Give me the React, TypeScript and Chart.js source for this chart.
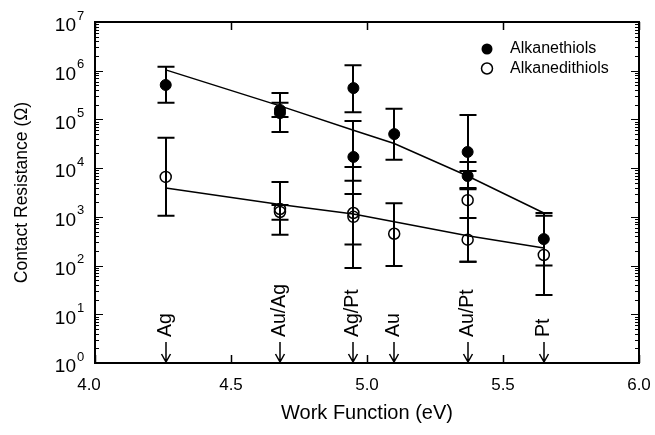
import React, { useEffect, useRef } from "react";
import { Chart, registerables } from "chart.js";
Chart.register(...registerables);

// Metal contacts and work functions (eV)
const metals = ["Ag", "Au/Ag", "Ag/Pt", "Au", "Au/Pt", "Pt"];
const workFunction = [4.26, 4.68, 4.95, 5.1, 5.37, 5.65];

// Alkanethiols (filled)
const thiolX = [4.26, 4.68, 4.68, 4.95, 4.95, 5.1, 5.37, 5.37, 5.65];
const thiolR = [5.1e5, 1.57e5, 1.35e5, 4.4e5, 1.7e4, 5.0e4, 2.15e4, 6.9e3, 3.5e2];
const thiolLo = [2.2e5, 5.5e4, 1.12e5, 1.4e5, 2.95e3, 1.48e4, 3.7e3, 3.9e3, 1.0e2];
const thiolHi = [1.2e6, 3.5e5, 2.2e5, 1.3e6, 9.3e4, 1.65e5, 1.24e5, 1.34e4, 1.2e3];

// Alkanedithiols (open)
const dithiolX = [4.26, 4.68, 4.68, 4.95, 4.95, 5.1, 5.37, 5.37, 5.65];
const dithiolR = [6.6e3, 1.45e3, 1.26e3, 1.2e3, 1.0e3, 4.5e2, 2.2e3, 3.4e2, 1.65e2];
const dithiolLo = [1.05e3, 4.3e2, 8.7e2, 2.7e2, 89, 98, 1.2e2, 1.2e2, 25];
const dithiolHi = [4.2e4, 5.2e3, 1.75e3, 5.5e3, 1.05e4, 1.9e3, 8.7e3, 9.5e2, 1.05e3];

// Fit curves evaluated at each work function
const thiolFit = [1.04e6, 1.9e5, 6.0e4, 3.2e4, 6.9e3, 1.2e3];
const dithiolFit = [3.9e3, 1.8e3, 1.15e3, 7.9e2, 4.1e2, 2.3e2];

// Axis ticks
const xTicks = [4.0, 4.5, 5.0, 5.5, 6.0];
const xTickLabels = ["4.0", "4.5", "5.0", "5.5", "6.0"];
const yDecades = [0, 1, 2, 3, 4, 5, 6, 7];

const legendLabels = ["Alkanethiols", "Alkanedithiols"];
const xTitle = "Work Function (eV)";
const yTitle = "Contact Resistance (\u03A9)";

const FONT = "'Liberation Sans', Arial, sans-serif";

const decor = {
  id: "decor",
  beforeDraw(chart: any) {
    const ctx = chart.ctx;
    ctx.save();
    ctx.fillStyle = "#fff";
    ctx.fillRect(0, 0, chart.width, chart.height);
    ctx.restore();
  },
  beforeDatasetsDraw(chart: any) {
    const ctx = chart.ctx;
    const xs = chart.scales.x;
    const ys = chart.scales.y;
    ctx.save();
    ctx.strokeStyle = "#000";
    ctx.lineWidth = 2;
    const bars = (X: number[], lo: number[], hi: number[]) => {
      for (let i = 0; i < X.length; i++) {
        const px = Math.round(xs.getPixelForValue(X[i]));
        const pl = ys.getPixelForValue(lo[i]);
        const ph = ys.getPixelForValue(hi[i]);
        ctx.beginPath();
        ctx.moveTo(px, pl);
        ctx.lineTo(px, ph);
        ctx.moveTo(px - 8.5, pl);
        ctx.lineTo(px + 8.5, pl);
        ctx.moveTo(px - 8.5, ph);
        ctx.lineTo(px + 8.5, ph);
        ctx.stroke();
      }
    };
    bars(thiolX, thiolLo, thiolHi);
    bars(dithiolX, dithiolLo, dithiolHi);
    ctx.restore();
  },
  afterDatasetsDraw(chart: any) {
    const ctx = chart.ctx;
    const xs = chart.scales.x;
    const ys = chart.scales.y;
    const a = chart.chartArea;
    ctx.save();
    ctx.strokeStyle = "#000";
    ctx.fillStyle = "#000";
    // frame
    ctx.lineWidth = 2;
    ctx.strokeRect(a.left, a.top, a.right - a.left, a.bottom - a.top);
    // x ticks
    ctx.lineWidth = 1.5;
    ctx.beginPath();
    xTicks.forEach((v) => {
      const px = Math.round(xs.getPixelForValue(v)) + 0.5;
      ctx.moveTo(px, a.bottom);
      ctx.lineTo(px, a.bottom - 8);
      ctx.moveTo(px, a.top);
      ctx.lineTo(px, a.top + 8);
    });
    ctx.stroke();
    // y ticks
    ctx.beginPath();
    yDecades.forEach((k) => {
      const py = Math.round(ys.getPixelForValue(Math.pow(10, k))) + 0.5;
      ctx.moveTo(a.left, py);
      ctx.lineTo(a.left + 8, py);
      ctx.moveTo(a.right, py);
      ctx.lineTo(a.right - 8, py);
      if (k < 7) {
        for (let m = 2; m <= 9; m++) {
          const pm = Math.round(ys.getPixelForValue(m * Math.pow(10, k))) + 0.5;
          ctx.moveTo(a.left, pm);
          ctx.lineTo(a.left + 4, pm);
          ctx.moveTo(a.right, pm);
          ctx.lineTo(a.right - 4, pm);
        }
      }
    });
    ctx.lineWidth = 1;
    ctx.stroke();

    // y tick labels 10^k
    yDecades.forEach((k) => {
      const py = ys.getPixelForValue(Math.pow(10, k));
      ctx.font = `19px ${FONT}`;
      ctx.textAlign = "right";
      ctx.textBaseline = "middle";
      ctx.fillText("10", 76, py + 4);
      ctx.font = `13px ${FONT}`;
      ctx.textAlign = "left";
      ctx.fillText(String(k), 77, py - 6);
    });
    // x tick labels
    ctx.font = `17px ${FONT}`;
    ctx.textAlign = "center";
    ctx.textBaseline = "top";
    xTicks.forEach((v, i) => {
      const px = xs.getPixelForValue(v);
      ctx.fillText(xTickLabels[i], px - (i === 0 ? 6 : 0), a.bottom + 14);
    });
    // axis titles
    ctx.font = `20px ${FONT}`;
    ctx.textBaseline = "middle";
    ctx.fillText(xTitle, (a.left + a.right) / 2, a.bottom + 50);
    ctx.save();
    ctx.font = `17.5px ${FONT}`;
    ctx.translate(22, (a.top + a.bottom) / 2);
    ctx.rotate(-Math.PI / 2);
    ctx.fillText(yTitle, 0, 0);
    ctx.restore();

    // metal labels with arrows
    metals.forEach((m, i) => {
      const px = Math.round(xs.getPixelForValue(workFunction[i]));
      ctx.lineWidth = 1.5;
      ctx.beginPath();
      ctx.moveTo(px, a.bottom - 21);
      ctx.lineTo(px, a.bottom - 1);
      ctx.moveTo(px - 4.5, a.bottom - 9);
      ctx.lineTo(px, a.bottom - 1);
      ctx.lineTo(px + 4.5, a.bottom - 9);
      ctx.stroke();
      ctx.save();
      ctx.translate(px, a.bottom - 26);
      ctx.rotate(-Math.PI / 2);
      ctx.font = `19.5px ${FONT}`;
      ctx.textAlign = "left";
      ctx.textBaseline = "middle";
      ctx.fillText(m, 0, 0);
      ctx.restore();
    });

    // legend
    ctx.font = `16px ${FONT}`;
    ctx.textAlign = "left";
    ctx.textBaseline = "middle";
    ctx.beginPath();
    ctx.arc(487, 49, 5.5, 0, Math.PI * 2);
    ctx.fill();
    ctx.fillText(legendLabels[0], 510, 49);
    ctx.beginPath();
    ctx.lineWidth = 1.5;
    ctx.arc(487, 68.5, 5.5, 0, Math.PI * 2);
    ctx.stroke();
    ctx.fillText(legendLabels[1], 510, 68.5);
    ctx.restore();
  },
};

export default function App() {
  const ref = useRef<HTMLCanvasElement>(null);
  useEffect(() => {
    const ctx = ref.current!.getContext("2d")!;
    const chart = new Chart(ctx, {
      type: "scatter",
      data: {
        datasets: [
          {
            label: legendLabels[0],
            data: thiolX.map((x, i) => ({ x, y: thiolR[i] })),
            pointRadius: 5.5,
            pointBackgroundColor: "#000",
            pointBorderColor: "#000",
            pointBorderWidth: 1,
            showLine: false,
          },
          {
            label: legendLabels[1],
            data: dithiolX.map((x, i) => ({ x, y: dithiolR[i] })),
            pointRadius: 5.5,
            pointBackgroundColor: "rgba(0,0,0,0)",
            pointBorderColor: "#000",
            pointBorderWidth: 1.5,
            showLine: false,
          },
          {
            label: "fit1",
            data: workFunction.map((x, i) => ({ x, y: thiolFit[i] })),
            showLine: true,
            borderColor: "#000",
            borderWidth: 1.5,
            pointRadius: 0,
          },
          {
            label: "fit2",
            data: workFunction.map((x, i) => ({ x, y: dithiolFit[i] })),
            showLine: true,
            borderColor: "#000",
            borderWidth: 1.5,
            pointRadius: 0,
          },
        ],
      },
      options: {
        responsive: false,
        animation: false,
        devicePixelRatio: 1,
        layout: { padding: { left: 95, right: 16, top: 22, bottom: 72 } },
        plugins: { legend: { display: false }, tooltip: { enabled: false } },
        scales: {
          x: { type: "linear", min: 4, max: 6, display: false },
          y: { type: "logarithmic", min: 1, max: 1e7, display: false },
        },
      },
      plugins: [decor],
    });
    return () => chart.destroy();
  }, []);
  return (
    <div style={{ position: "fixed", left: 0, top: 0, width: 655, height: 435, background: "#fff" }}>
      <canvas ref={ref} width={655} height={435} style={{ display: "block" }} />
    </div>
  );
}
